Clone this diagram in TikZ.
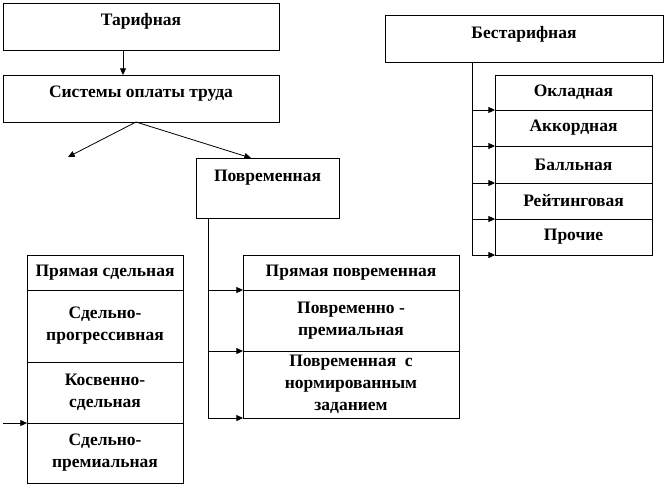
\documentclass[tikz,border=0pt]{standalone}
\usepackage{fontspec}
\setmainfont{Liberation Serif}
\usetikzlibrary{arrows.meta,positioning}

\begin{document}
\begin{tikzpicture}[x=1pt, y=-1pt, scale=0.75, every node/.style={transform shape},
  box/.style={draw,line width=0.6pt,inner sep=2pt,outer sep=0pt,align=center,font=\fontsize{17.5}{22}\selectfont\bfseries},
  head/.style={box,minimum height=47,text height=12pt,text depth=14pt},
  col/.style={box,minimum width=#1},
  arr/.style={line width=0.6pt,-{Triangle[length=5pt,width=4.5pt]}},
]
  \useasboundingbox (0,0) rectangle (665,495);

  % heads
  \node[head,minimum width=276,anchor=north west] (tarif) at (3,3) {Тарифная};
  \node[head,minimum width=276,anchor=north west] (sys) at (3,75) {Системы оплаты труда};
  \node[head,minimum width=278,anchor=north west,text depth=12pt] (notarif) at (385,15) {Бестарифная};
  \node[head,minimum width=143,minimum height=60,anchor=north west,text depth=25pt] (time) at (196,158) {Повременная};

  % piece-rate column
  \node[col=156,minimum height=35,anchor=north west] (pc1) at (27,255) {Прямая сдельная};
  \node[col=156,minimum height=72,below=0pt of pc1] (pc2) {Сдельно-\\прогрессивная};
  \node[col=156,minimum height=61,below=0pt of pc2] (pc3) {Косвенно-\\сдельная};
  \node[col=156,minimum height=60,below=0pt of pc3] (pc4) {Сдельно-\\премиальная};

  % time-rate column
  \node[col=216,minimum height=35,anchor=north west] (tp1) at (243,255) {Прямая повременная};
  \node[col=216,minimum height=61,below=0pt of tp1] (tp2) {Повременно -\\премиальная};
  \node[col=216,minimum height=67,below=0pt of tp2] (tp3) {Повременная~ с\\нормированным\\заданием};

  % non-tariff column
  \node[col=157,minimum height=35,anchor=north west] (nt1) at (495,75) {Окладная};
  \node[col=157,minimum height=36,below=0pt of nt1] (nt2) {Аккордная};
  \node[col=157,minimum height=37,below=0pt of nt2] (nt3) {Балльная};
  \node[col=157,minimum height=36,below=0pt of nt3] (nt4) {Рейтинговая};
  \node[col=157,minimum height=36,below=0pt of nt4] (nt5) {Прочие};

  \coordinate (drop) at (123,0);
  \coordinate (fork) at (136,0);
  \coordinate (piece) at (68,157);
  \coordinate (tin) at (251,0);
  \coordinate (tbus) at (208,0);
  \coordinate (nbus) at (472,0);
  \coordinate (lin) at (3,0);

  \draw[arr] (tarif.south -| drop) -- (sys.north -| drop);
  \draw[arr] (sys.south -| fork) -- (piece);
  \draw[arr] (sys.south -| fork) -- (time.north -| tin);

  \draw[line width=0.6pt] (time.south -| tbus) -- (tp3.south west -| tbus);
  \foreach \c in {tp1,tp2,tp3}
    \draw[arr] (\c.south west -| tbus) -- (\c.south west);

  \draw[line width=0.6pt] (notarif.south -| nbus) -- (nt5.south west -| nbus);
  \foreach \c in {nt1,nt2,nt3,nt4,nt5}
    \draw[arr] (\c.south west -| nbus) -- (\c.south west);

  \draw[arr] (pc3.south west -| lin) -- (pc3.south west);
\end{tikzpicture}
\end{document}
